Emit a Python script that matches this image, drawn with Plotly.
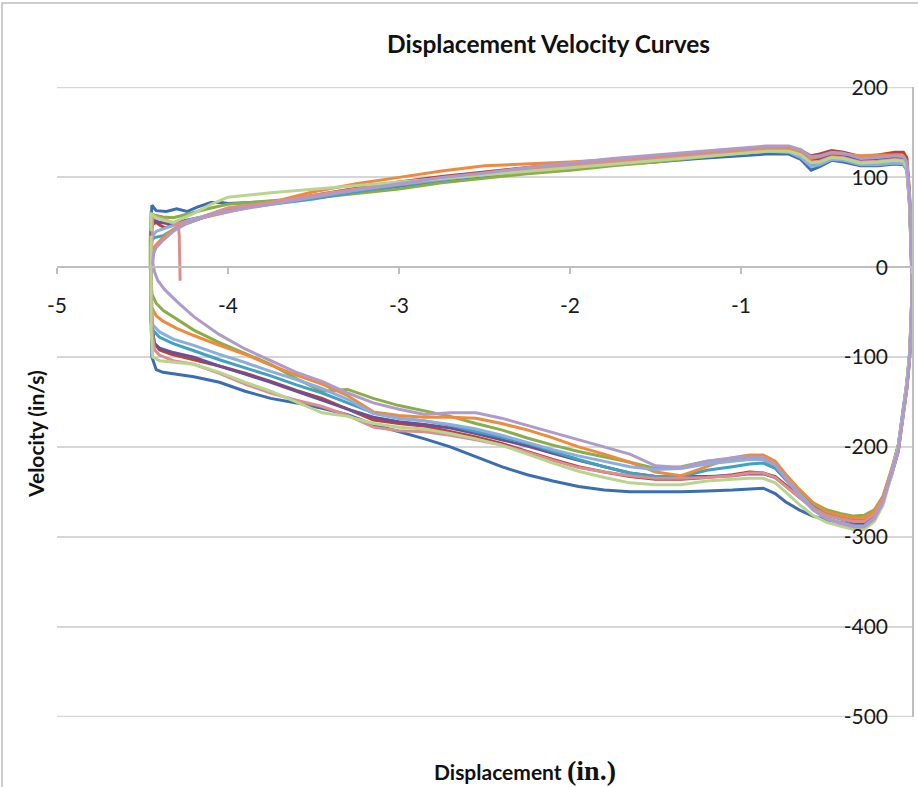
import plotly.graph_objects as go

# ---------------- data ----------------
TITLE = "Displacement Velocity Curves"
X_TICK_VALS = [-5, -4, -3, -2, -1, 0]
X_TICK_TEXT = ["-5", "-4", "-3", "-2", "-1", "0"]
Y_TICK_VALS = [200, 100, 0, -100, -200, -300, -400, -500]
Y_TICK_TEXT = ["200", "100", "0", "-100", "-200", "-300", "-400", "-500"]

# common displacement grid for the upper (outbound) branch
TOP_X = [-4.0, -3.75, -3.5, -3.25, -3.0, -2.75, -2.5, -2.25, -2.0, -1.75, -1.5, -1.25,
         -1.0, -0.85, -0.72, -0.65, -0.59, -0.54, -0.47, -0.4, -0.3, -0.2, -0.1,
         -0.05, -0.03, -0.015, -0.005, 0.0]
# common displacement grid for the lower (return) branch
BOT_X = [0.0, -0.005, -0.015, -0.03, -0.05, -0.08, -0.12, -0.17, -0.22, -0.28, -0.34,
         -0.42, -0.5, -0.58, -0.66, -0.74, -0.8, -0.87, -0.95, -1.05, -1.2, -1.35, -1.5,
         -1.65, -1.8, -1.95, -2.1, -2.25, -2.4, -2.55, -2.7, -2.85, -3.0, -3.15, -3.3,
         -3.45, -3.6, -3.75, -3.9, -4.05, -4.2]

# --- series 1 (blue)
s1_start_x = [-4.45, -4.445, -4.42, -4.36, -4.3, -4.24, -4.18, -4.1, -4.04]
s1_start_y = [50, 69, 63, 62, 65, 62, 67, 72, 72]
s1_top_y = [71, 73, 78, 84, 90, 96, 101, 106, 110, 114, 117, 121, 124, 126, 126, 120, 108,
            112, 119, 117, 113, 113, 115, 114, 108, 70, 20, -10]
s1_bot_y = [-20, -58, -98, -128, -158, -198, -228, -260, -278, -286, -287, -284, -281, -277,
            -270, -261, -252, -246, -247, -248, -249, -250, -250, -250, -248, -244, -238,
            -231, -222, -211, -200, -191, -183, -175, -164, -157, -151, -146, -138, -128, -122]
s1_end_x = [-4.3, -4.38, -4.42, -4.445, -4.45, -4.45, -4.45]
s1_end_y = [-119, -117, -114, -100, -50, 20, 50]

# --- series 2 (red)
s2_start_x = [-4.45, -4.44, -4.42, -4.4, -4.37, -4.33, -4.28, -4.2, -4.1]
s2_start_y = [40, 48, 50, 47, 44, 46, 50, 52, 58]
s2_top_y = [64, 72, 80, 88, 95, 101, 106, 111, 116, 120, 123, 127, 131, 133, 133, 130, 124,
            126, 130, 128, 123, 125, 128, 128, 122, 85, 30, -5]
s2_bot_y = [-25, -65, -105, -135, -165, -205, -232, -260, -274, -280, -280, -277, -274, -266,
            -255, -242, -233, -229, -228, -231, -234, -236, -236, -233, -228, -222, -214,
            -205, -196, -189, -183, -177, -174, -170, -158, -146, -137, -127, -118, -110, -103]
s2_end_x = [-4.33, -4.4, -4.43, -4.45, -4.45, -4.45]
s2_end_y = [-97, -92, -85, -60, 0, 35]

# --- series 3 (green)
s3_start_x = [-4.455, -4.452, -4.45, -4.43, -4.38, -4.32, -4.26, -4.18, -4.1]
s3_start_y = [30, 55, 60, 58, 56, 55, 58, 62, 66]
s3_top_y = [70, 74, 77, 82, 87, 94, 99, 104, 108, 113, 117, 122, 127, 129, 130, 127, 118,
            119, 124, 123, 118, 119, 121, 120, 112, 75, 25, -5]
s3_bot_y = [-20, -60, -100, -130, -160, -198, -225, -255, -270, -276, -277, -274, -270, -262,
            -250, -236, -222, -214, -212, -213, -216, -222, -224, -217, -211, -205, -198,
            -190, -181, -174, -166, -160, -154, -146, -136, -138, -124, -108, -96, -84, -70]
s3_end_x = [-4.3, -4.38, -4.42, -4.445, -4.455, -4.455]
s3_end_y = [-58, -48, -40, -30, 0, 30]

# --- series 4 (purple)
s4_start_x = [-4.45, -4.445, -4.43, -4.4, -4.33, -4.25, -4.15, -4.08]
s4_start_y = [40, 50, 52, 50, 48, 52, 56, 60]
s4_top_y = [63, 71, 79, 87, 93, 99, 104, 109, 114, 118, 122, 126, 130, 132, 132, 128, 120,
            121, 126, 125, 120, 121, 123, 122, 115, 80, 28, -5]
s4_bot_y = [-22, -62, -102, -132, -162, -202, -230, -260, -277, -285, -284, -280, -276, -268,
            -256, -243, -234, -230, -230, -232, -233, -233, -233, -229, -222, -215, -207,
            -199, -192, -185, -179, -175, -172, -167, -158, -148, -138, -128, -119, -110, -100]
s4_end_x = [-4.32, -4.4, -4.43, -4.45, -4.45, -4.45]
s4_end_y = [-95, -90, -85, -60, 0, 40]

# --- series 5 (cyan)
s5_start_x = [-4.45, -4.445, -4.43, -4.38, -4.32, -4.25, -4.15, -4.08]
s5_start_y = [20, 30, 33, 35, 42, 48, 55, 60]
s5_top_y = [64, 70, 76, 84, 91, 97, 103, 108, 113, 117, 121, 125, 128, 130, 130, 125, 114,
            116, 122, 121, 116, 117, 119, 118, 111, 75, 25, -5]
s5_bot_y = [-22, -62, -100, -130, -160, -200, -228, -258, -274, -282, -282, -279, -275, -266,
            -252, -236, -224, -218, -219, -222, -226, -233, -233, -229, -222, -214, -205,
            -196, -189, -183, -176, -171, -168, -162, -151, -140, -131, -121, -112, -103, -93]
s5_end_x = [-4.32, -4.4, -4.44, -4.45, -4.45, -4.45]
s5_end_y = [-85, -78, -70, -40, 0, 20]

# --- series 6 (orange)
s6_start_x = [-4.45, -4.44, -4.42, -4.38, -4.32, -4.25, -4.15, -4.08]
s6_start_y = [10, 20, 25, 33, 42, 50, 55, 58]
s6_top_y = [62, 72, 84, 93, 100, 107, 113, 115, 117, 120, 124, 128, 131, 133, 132, 129, 121,
            123, 127, 126, 124, 125, 125, 124, 117, 80, 28, -5]
s6_bot_y = [-22, -62, -100, -130, -160, -198, -226, -256, -272, -279, -279, -276, -272, -262,
            -247, -230, -216, -209, -209, -212, -222, -232, -228, -217, -208, -200, -190,
            -181, -174, -168, -167, -167, -165, -161, -143, -130, -120, -109, -97, -87, -76]
s6_end_x = [-4.3, -4.38, -4.42, -4.445, -4.45, -4.45]
s6_end_y = [-68, -60, -54, -45, 0, 10]

# --- series 7 (light blue)
s7_start_x = [-4.45, -4.44, -4.42, -4.36, -4.3, -4.22, -4.12]
s7_start_y = [25, 35, 40, 44, 48, 53, 58]
s7_top_y = [66, 72, 79, 86, 92, 98, 103, 108, 112, 116, 120, 124, 127, 129, 128, 122, 112,
            114, 120, 119, 114, 114, 116, 115, 108, 72, 22, -5]
s7_bot_y = [-20, -58, -98, -128, -158, -198, -228, -260, -279, -288, -288, -284, -279, -268,
            -252, -234, -220, -214, -214, -216, -219, -224, -225, -222, -216, -210, -203,
            -195, -187, -180, -175, -171, -168, -163, -147, -135, -125, -116, -106, -97, -87]
s7_end_x = [-4.32, -4.4, -4.44, -4.45, -4.45, -4.45]
s7_end_y = [-80, -72, -64, -30, 0, 25]

# --- series 8 (pink, with the short start tail)
s8_start_x = [-4.28, -4.282, -4.285, -4.29, -4.33, -4.38, -4.42, -4.44, -4.4, -4.3, -4.2, -4.12]
s8_start_y = [-15, 10, 35, 45, 50, 54, 56, 57, 54, 48, 52, 58]
s8_top_y = [66, 72, 80, 87, 93, 99, 104, 109, 113, 118, 121, 125, 129, 131, 130, 126, 117,
            118, 123, 122, 117, 118, 120, 119, 112, 76, 26, -5]
s8_bot_y = [-25, -65, -105, -135, -165, -204, -231, -259, -275, -283, -283, -280, -276, -268,
            -256, -243, -234, -229, -229, -232, -234, -235, -235, -232, -228, -223, -215,
            -206, -198, -192, -187, -183, -182, -178, -165, -155, -148, -140, -130, -118, -108]
s8_end_x = [-4.32, -4.4, -4.43, -4.45, -4.45, -4.445, -4.44]
s8_end_y = [-104, -98, -92, -60, 0, 45, 57]

# --- series 9 (light green)
s9_start_x = [-4.45, -4.45, -4.42, -4.37, -4.32, -4.27, -4.2, -4.1]
s9_start_y = [40, 60, 55, 52, 50, 54, 60, 70]
s9_top_y = [78, 83, 87, 91, 95, 99, 103, 107, 111, 115, 119, 123, 127, 129, 129, 125, 116,
            117, 122, 121, 116, 117, 119, 118, 111, 75, 25, -5]
s9_bot_y = [-20, -58, -98, -128, -160, -200, -232, -265, -283, -292, -292, -288, -284, -276,
            -264, -250, -240, -235, -235, -236, -238, -242, -242, -240, -234, -227, -218,
            -208, -198, -191, -185, -180, -178, -174, -166, -162, -150, -138, -128, -117, -108]
s9_end_x = [-4.32, -4.4, -4.44, -4.45, -4.45, -4.45]
s9_end_y = [-106, -104, -100, -70, 0, 35]

# --- series 10 (lavender)
s10_start_x = [-4.44, -4.435, -4.42, -4.38, -4.32, -4.25, -4.15, -4.08]
s10_start_y = [5, 15, 22, 30, 40, 48, 55, 59]
s10_top_y = [62, 70, 78, 86, 93, 100, 105, 111, 116, 121, 125, 129, 133, 135, 135, 131, 123,
             124, 128, 127, 121, 122, 124, 123, 116, 80, 28, -5]
s10_bot_y = [-22, -62, -102, -132, -162, -202, -230, -262, -280, -289, -289, -285, -280, -270,
             -254, -235, -220, -212, -211, -212, -216, -223, -221, -208, -200, -192, -184,
             -176, -168, -162, -162, -164, -158, -151, -140, -127, -117, -104, -91, -75, -55]
s10_end_x = [-4.3, -4.37, -4.41, -4.43, -4.44]
s10_end_y = [-38, -25, -15, -5, 5]

COLORS = ["#3B6DB4", "#B9423E", "#8BAD49", "#6E4F96", "#3EA2C0", "#EE8A3C",
          "#8DAEDD", "#DC8E8C", "#B9D48F", "#AD9BCB"]

SERIES = [
    (s1_start_x, s1_start_y, s1_top_y, s1_bot_y, s1_end_x, s1_end_y),
    (s2_start_x, s2_start_y, s2_top_y, s2_bot_y, s2_end_x, s2_end_y),
    (s3_start_x, s3_start_y, s3_top_y, s3_bot_y, s3_end_x, s3_end_y),
    (s4_start_x, s4_start_y, s4_top_y, s4_bot_y, s4_end_x, s4_end_y),
    (s5_start_x, s5_start_y, s5_top_y, s5_bot_y, s5_end_x, s5_end_y),
    (s6_start_x, s6_start_y, s6_top_y, s6_bot_y, s6_end_x, s6_end_y),
    (s7_start_x, s7_start_y, s7_top_y, s7_bot_y, s7_end_x, s7_end_y),
    (s8_start_x, s8_start_y, s8_top_y, s8_bot_y, s8_end_x, s8_end_y),
    (s9_start_x, s9_start_y, s9_top_y, s9_bot_y, s9_end_x, s9_end_y),
    (s10_start_x, s10_start_y, s10_top_y, s10_bot_y, s10_end_x, s10_end_y),
]

# ---------------- figure ----------------
W, H = 918, 787
ML, MR, MT, MB = 57, 6, 87, 70
PW, PH = W - ML - MR, H - MT - MB
Y_RANGE = [-500.6, 200.6]
GRID_COLOR = "#D6D6D6"


def px_x(px):
    return (px - ML) / PW


def px_y(py):
    return (H - MB - py) / PH


fig = go.Figure()
for i, (sx, sy, ty, by, ex, ey) in enumerate(SERIES):
    assert len(sx) == len(sy) and len(ex) == len(ey)
    assert len(ty) == len(TOP_X), (i, len(ty))
    assert len(by) == len(BOT_X), (i, len(by))
    xs = list(sx) + TOP_X + BOT_X + list(ex)
    ys = list(sy) + list(ty) + list(by) + list(ey)
    fig.add_trace(go.Scatter(x=xs, y=ys, mode="lines",
                             line=dict(color=COLORS[i], width=3),
                             showlegend=False, hoverinfo="skip"))

# empty trace that carries the label-only value axis
fig.add_trace(go.Scatter(x=[None], y=[None], yaxis="y2", mode="lines",
                         showlegend=False, hoverinfo="skip"))

TICK_FONT = dict(family="Lato, Open Sans, sans-serif", size=21, color="#1A1A1A")

fig.update_layout(
    width=W, height=H,
    margin=dict(l=ML, r=MR, t=MT, b=MB),
    paper_bgcolor="white", plot_bgcolor="white",
    showlegend=False,
    xaxis=dict(range=[-5, 0], tickvals=X_TICK_VALS, ticktext=X_TICK_TEXT,
               showgrid=False, zeroline=False,
               showline=True, linecolor="#BEBEBE", linewidth=1.5,
               ticks="outside", ticklen=6, tickcolor="#BEBEBE", tickwidth=1.5,
               anchor="free", position=(0 - Y_RANGE[0]) / (Y_RANGE[1] - Y_RANGE[0]),
               ticklabelstandoff=14,
               tickfont=TICK_FONT),
    yaxis=dict(range=Y_RANGE, tickvals=Y_TICK_VALS,
               side="right", anchor="x",
               showgrid=True, gridcolor=GRID_COLOR, gridwidth=1.5,
               zeroline=False, showticklabels=False,
               showline=True, linecolor="#BEBEBE", linewidth=1.5,
               ticks=""),
    yaxis2=dict(range=Y_RANGE, tickvals=Y_TICK_VALS, ticktext=Y_TICK_TEXT,
                overlaying="y", side="left", anchor="free", position=1.0,
                showgrid=False, zeroline=False, showline=False, ticks="",
                ticklabelstandoff=24, tickfont=TICK_FONT),
)

# gridlines at the two ends of the value range (plotly skips these at the edges)
for v in (Y_TICK_VALS[0], Y_TICK_VALS[-1]):
    fig.add_shape(type="line", xref="paper", yref="y", x0=0, x1=1, y0=v, y1=v,
                  line=dict(color=GRID_COLOR, width=1.5), layer="below")

# chart area border
fig.add_shape(type="rect", xref="paper", yref="paper",
              x0=px_x(2), x1=px_x(930), y0=px_y(800), y1=px_y(3),
              line=dict(color="#BDBDBD", width=1.5), fillcolor="rgba(0,0,0,0)",
              layer="below")

fig.add_annotation(text="<b>" + TITLE + "</b>", xref="paper", yref="paper",
                   x=px_x(548), y=px_y(43), showarrow=False,
                   xanchor="center", yanchor="middle",
                   font=dict(family="Lato, Open Sans, sans-serif", size=24.5, color="#111111"))
fig.add_annotation(text="<b>Velocity (in/s)</b>", xref="paper", yref="paper",
                   x=px_x(35), y=px_y(434), showarrow=False, textangle=-90,
                   xanchor="center", yanchor="middle",
                   font=dict(family="Lato, Open Sans, sans-serif", size=21, color="#111111"))
fig.add_annotation(text="<b>Displacement</b> <b><span style='font-family:Liberation Serif, Times New Roman, serif;font-size:28px'>(in.)</span></b>",
                   xref="paper", yref="paper",
                   x=px_x(525), y=px_y(770), showarrow=False,
                   xanchor="center", yanchor="middle",
                   font=dict(family="Lato, Open Sans, sans-serif", size=21, color="#111111"))

fig.write_html("out.html")
